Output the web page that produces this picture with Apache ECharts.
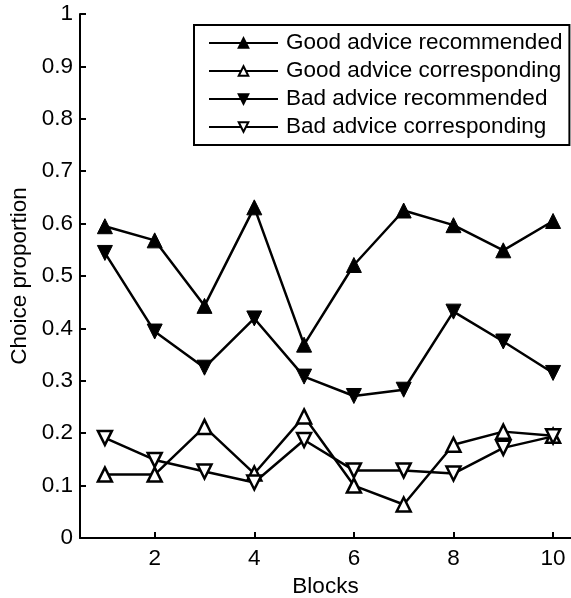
<!DOCTYPE html>
<html><head><meta charset="utf-8">
<script src="https://cdn.jsdelivr.net/npm/echarts@6/dist/echarts.min.js"></script>
<style>html,body{margin:0;padding:0;background:#fff}#c{width:571px;height:598px}</style>
</head><body><div id="c"></div>
<script>
var blocks = [1,2,3,4,5,6,7,8,9,10];
var goodRecommended = [0.595,0.568,0.443,0.631,0.369,0.521,0.625,0.597,0.549,0.605];
var goodCorresponding = [0.121,0.121,0.212,0.123,0.232,0.100,0.064,0.178,0.203,0.195];
var badRecommended = [0.544,0.394,0.325,0.419,0.308,0.271,0.283,0.432,0.375,0.315];
var badCorresponding = [0.191,0.149,0.127,0.106,0.187,0.129,0.129,0.123,0.172,0.194];
var seriesNames = ['Good advice recommended','Good advice corresponding','Bad advice recommended','Bad advice corresponding'];
var xTicks = [2,4,6,8,10];

function pairs(v){ return blocks.map(function(b,i){ return [b, v[i]]; }); }
function mk(name, vals, filled, down){
  return {
    name: name, type: 'line', data: pairs(vals),
    symbol: 'triangle', symbolSize: filled ? 15 : 14, symbolRotate: down ? 180 : 0,
    lineStyle: {color: '#000', width: 2.5},
    itemStyle: {color: filled ? '#000' : '#fff', borderColor: '#000', borderWidth: filled ? 1 : 2.5},
    emphasis: {disabled: true}, animation: false, z: filled ? 3 : 2
  };
}
var font = 'Liberation Sans, Arial, sans-serif';
var fs = 22.5;
var chart = echarts.init(document.getElementById('c'), null, {renderer: 'canvas'});
chart.setOption({
  backgroundColor: '#fff',
  animation: false,
  grid: {left: 80, right: 0, top: 14, bottom: 60, containLabel: false, outerBoundsMode: 'none'},
  xAxis: {
    type: 'value', min: 0.5, max: 10.36,
    name: 'Blocks', nameLocation: 'middle', nameGap: 33,
    nameTextStyle: {color: '#000', fontSize: fs, fontFamily: font},
    axisLine: {show: true, onZero: false, lineStyle: {color: '#000', width: 2}},
    axisTick: {show: true, inside: true, length: 6, lineStyle: {color: '#000', width: 2}, customValues: xTicks},
    axisLabel: {color: '#000', fontSize: fs, fontFamily: font, margin: 9, customValues: xTicks},
    splitLine: {show: false}
  },
  yAxis: {
    type: 'value', min: 0, max: 1, interval: 0.1,
    name: 'Choice proportion', nameLocation: 'middle', nameGap: 48,
    nameTextStyle: {color: '#000', fontSize: fs, fontFamily: font},
    axisLine: {show: true, lineStyle: {color: '#000', width: 2}},
    axisTick: {show: true, inside: true, length: 6, lineStyle: {color: '#000', width: 2}},
    axisLabel: {color: '#000', fontSize: fs, fontFamily: font, margin: 7},
    splitLine: {show: false}
  },
  legend: {
    orient: 'vertical', left: 194, top: 25,
    data: seriesNames,
    itemWidth: 69, itemHeight: 12, itemGap: 0,
    padding: [4, 7, 4, 14],
    borderColor: '#000', borderWidth: 2,
    backgroundColor: '#fff',
    textStyle: {color: '#000', fontSize: fs, fontFamily: font, lineHeight: 28, padding: [0,0,0,3]},
    selectedMode: false
  },
  series: [
    mk(seriesNames[0], goodRecommended, true, false),
    mk(seriesNames[1], goodCorresponding, false, false),
    mk(seriesNames[2], badRecommended, true, true),
    mk(seriesNames[3], badCorresponding, false, true)
  ]
});
</script></body></html>
